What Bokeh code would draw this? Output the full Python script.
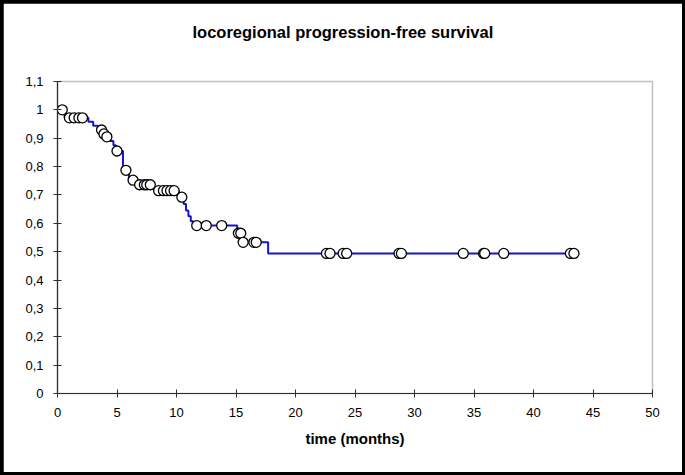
import numpy as np
from bokeh.plotting import figure
from bokeh.layouts import column
from bokeh.models import Range1d, FixedTicker, Title
from bokeh.embed import file_html
from bokeh.resources import INLINE

# Kaplan-Meier step curve: time at which survival changes, and new survival level
step_t = [0.0, 0.6, 2.6, 3.0, 3.4, 3.8, 4.0, 4.4, 4.7, 4.9, 5.5, 6.0, 6.7, 8.1,
          10.2, 10.6, 10.8, 11.0, 11.2, 11.4, 15.1, 15.5, 17.7]
step_s = [1.0, 0.972, 0.958, 0.944, 0.929, 0.915, 0.905, 0.89, 0.875, 0.855, 0.787,
          0.752, 0.736, 0.715, 0.692, 0.668, 0.645, 0.625, 0.607, 0.592, 0.565, 0.533, 0.494]

# censored observations (months)
cens_t = [0.4, 1.0, 1.4, 1.8, 2.1, 3.7, 3.9, 4.15, 5.0, 5.75, 6.35, 6.9, 7.3, 7.5, 7.8,
          8.5, 8.9, 9.2, 9.5, 9.8, 10.45, 11.7, 12.5, 13.8, 15.2, 15.4, 15.6, 16.5, 16.7,
          22.6, 22.9, 24.0, 24.3, 28.7, 28.9, 34.1, 35.8, 35.9, 37.5, 43.1, 43.4]

x_ticks = [0, 5, 10, 15, 20, 25, 30, 35, 40, 45, 50]
y_ticks = [0, 0.1, 0.2, 0.3, 0.4, 0.5, 0.6, 0.7, 0.8, 0.9, 1.0, 1.1]
y_labels = ["0", "0,1", "0,2", "0,3", "0,4", "0,5", "0,6", "0,7", "0,8", "0,9", "1", "1,1"]

title_text = "locoregional progression-free survival"
x_label = "time (months)"

# survival level at each censored time (read from the step function)
st = np.array(step_t)
ss = np.array(step_s)
cens_s = [float(ss[np.searchsorted(st, c, side="right") - 1]) for c in cens_t]

line_x = step_t + [max(cens_t)]
line_y = step_s + [step_s[-1]]

W, H = 679, 469
p = figure(width=W, height=H, output_backend="svg", toolbar_location=None,
           x_range=Range1d(0, 50), y_range=Range1d(0, 1.1),
           min_border_left=54, min_border_right=30, min_border_top=78, min_border_bottom=79)

# spacer panel next to the frame, then the real title above it
p.add_layout(Title(text=" ", text_font_size="10px", standoff=28), "above")
p.add_layout(Title(text=title_text, align="left", offset=135, standoff=0,
                   text_font="Liberation Sans", text_font_size="16.5px",
                   text_font_style="bold", text_color="black"), "above")

p.xgrid.visible = False
p.ygrid.visible = False
p.outline_line_color = "#c0c0c0"
p.outline_line_width = 1.5
p.background_fill_color = "white"
p.border_fill_color = "white"

for ax in (p.xaxis[0], p.yaxis[0]):
    ax.axis_line_color = "#303030"
    ax.axis_line_width = 1.2
    ax.major_tick_line_color = "#303030"
    ax.major_tick_in = 4
    ax.major_tick_out = 4
    ax.minor_tick_line_color = None
    ax.major_label_text_font = "Liberation Sans"
    ax.major_label_text_font_size = "13px"
    ax.major_label_text_color = "black"

p.xaxis.ticker = FixedTicker(ticks=x_ticks)
p.yaxis.ticker = FixedTicker(ticks=y_ticks)
p.yaxis.major_label_overrides = {t: l for t, l in zip(y_ticks, y_labels)}
p.xaxis.major_label_standoff = 10
p.yaxis.major_label_standoff = 10
p.xaxis.axis_label = x_label
p.xaxis.axis_label_text_font = "Liberation Sans"
p.xaxis.axis_label_text_font_size = "15px"
p.xaxis.axis_label_text_font_style = "bold"
p.xaxis.axis_label_text_color = "black"
p.xaxis.axis_label_standoff = 10

p.step(line_x, line_y, mode="after", line_color="#1414c8", line_width=2)
p.scatter(cens_t, cens_s, marker="circle", size=10, fill_color="white",
          line_color="black", line_width=1.3)

lay = column(p, styles={"background-color": "black", "padding": "3px"})

open("out.html", "w").write(file_html(lay, INLINE))
